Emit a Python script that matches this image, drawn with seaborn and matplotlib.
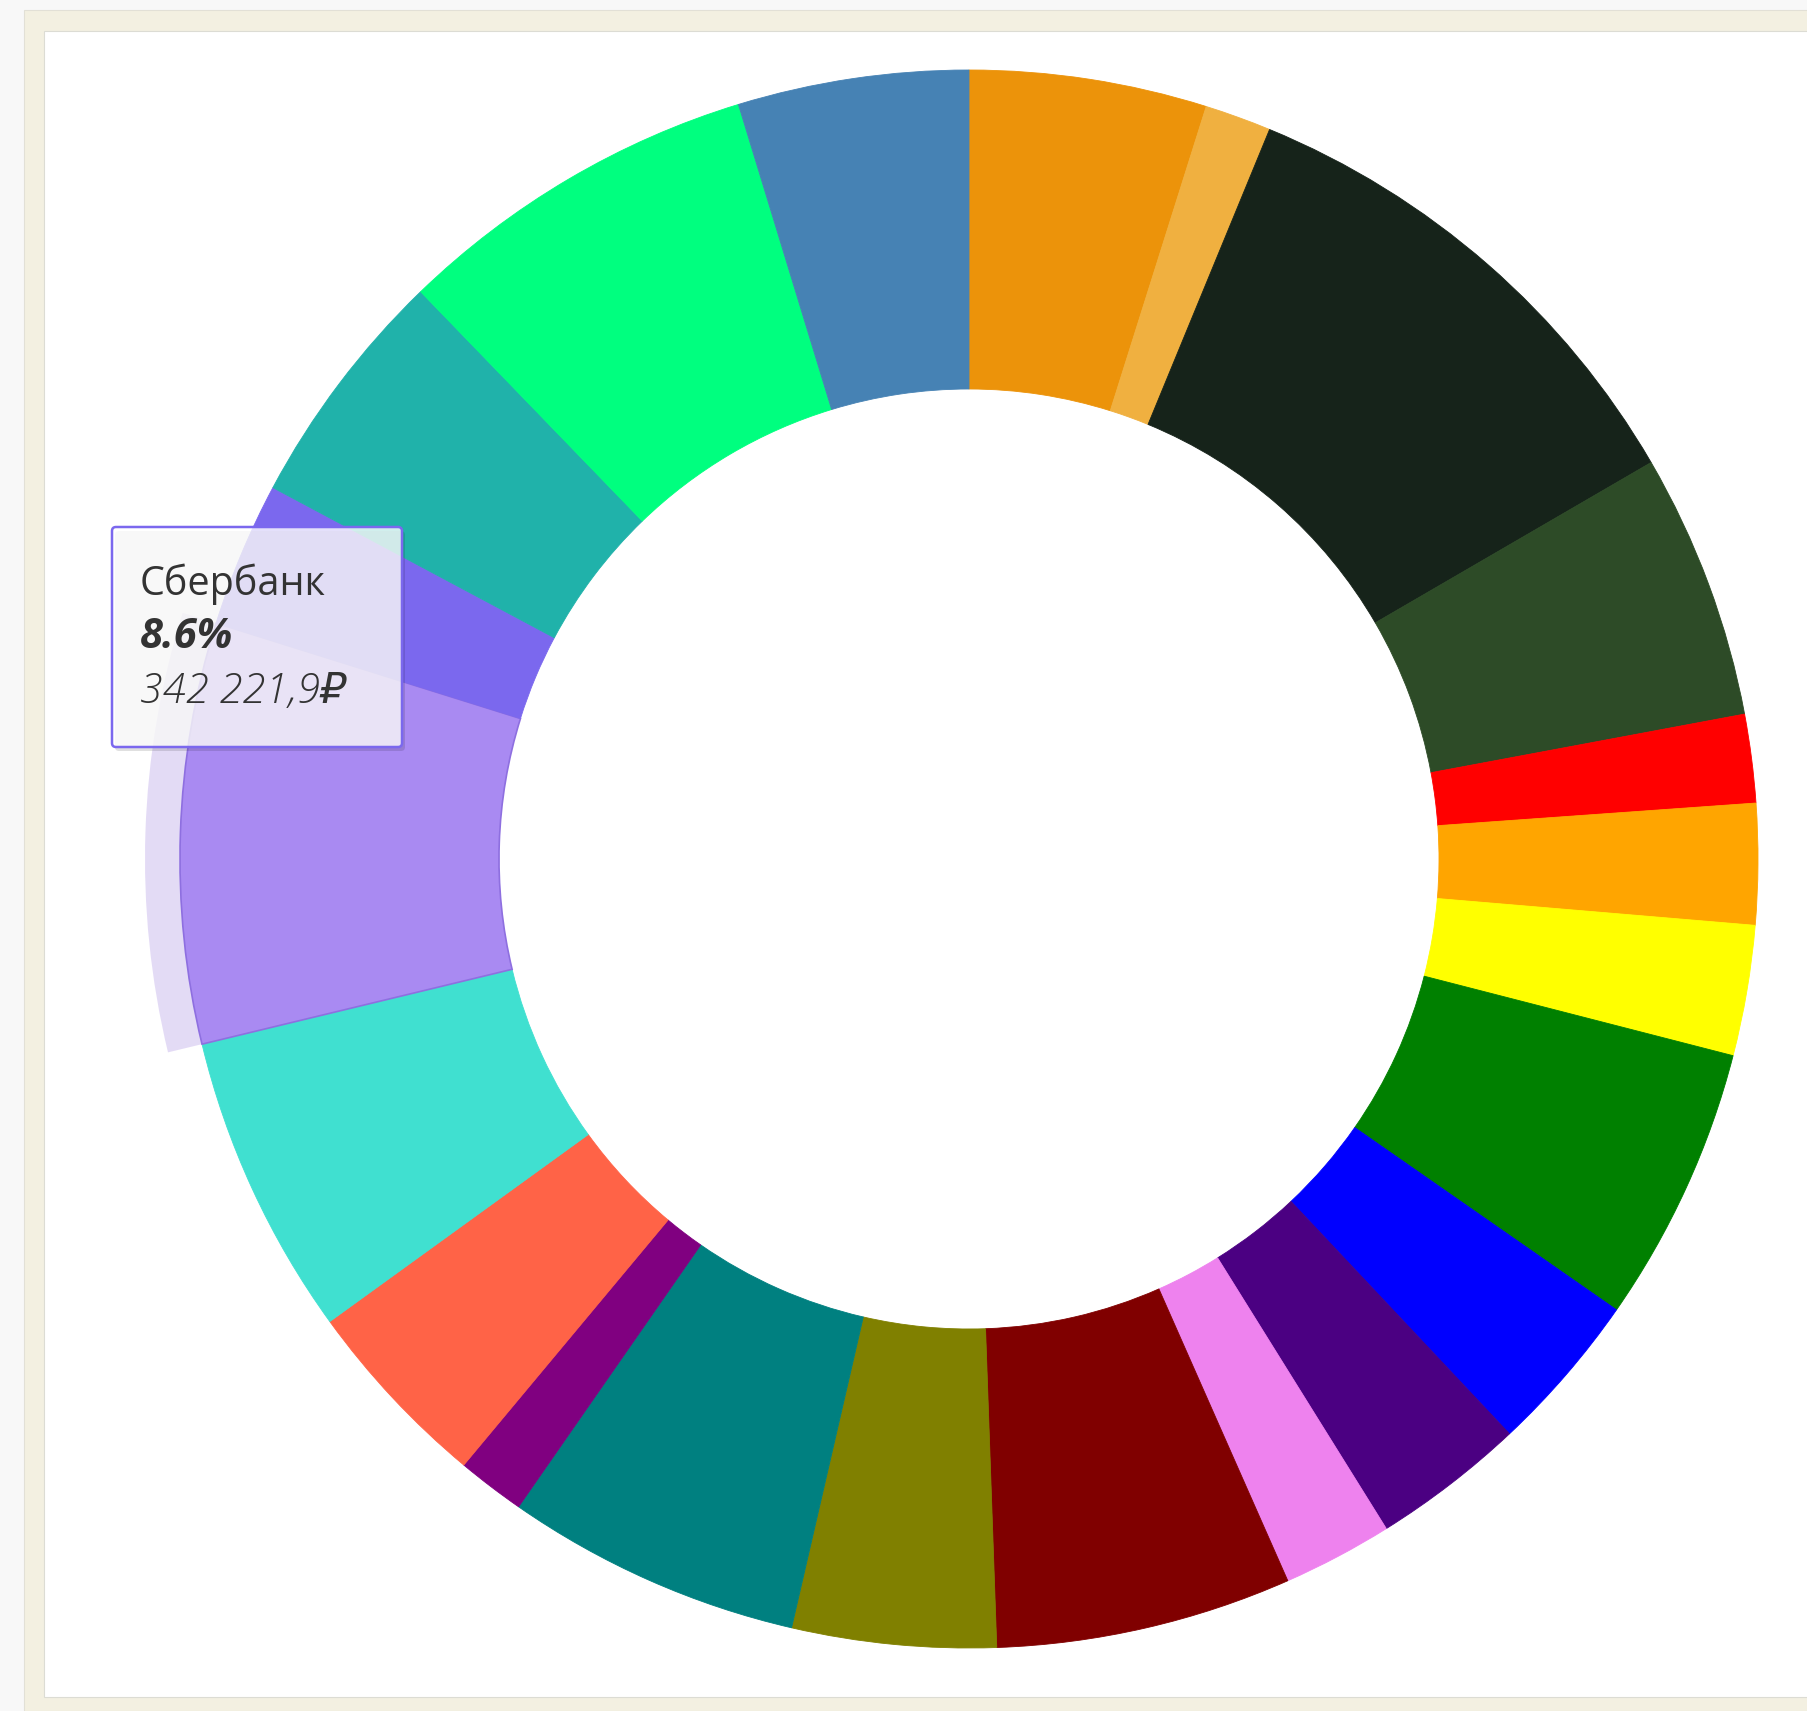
import numpy as np
import matplotlib
matplotlib.use("Agg")
import matplotlib.pyplot as plt
import seaborn as sns
from matplotlib.patches import Wedge, Rectangle, FancyBboxPatch

# ---- data (shares in %, clockwise from 12 o'clock) ----
shares = [4.86, 1.36, 10.40, 5.44, 1.81, 2.47, 2.67, 5.67, 3.31, 3.14, 2.25,
          6.06, 4.17, 6.06, 1.39, 3.97, 6.20, 8.60, 2.97, 4.97, 7.51, 4.72]
colors = ["#EC930A", "#F0B040", "#16231A", "#2D4B27", "#FF0000", "#FFA500",
          "#FFFF00", "#008000", "#0000FF", "#4B0082", "#EE82EE", "#800000",
          "#808000", "#008080", "#800080", "#FF6347", "#40E0D0", "#A98AF2",
          "#7B68EE", "#20B2AA", "#00FF7F", "#4682B4"]
hover_index = 17
tooltip_name = "Сбербанк"
tooltip_share = "8.6%"
tooltip_value = "342 221,9₽"

sns.set_theme(style="white")
plt.rcParams["font.family"] = ["Open Sans", "DejaVu Sans"]

W, H = 1808, 1711
fig = plt.figure(figsize=(W / 100, H / 100), dpi=100, facecolor="#F8F8F8")
ax = fig.add_axes([0, 0, 1, 1])
ax.set_facecolor("none")

# frame: beige border and white panel
ax.add_patch(Rectangle((24, 0), W - 24, H - 10, facecolor="#F3F0E1",
                       edgecolor="#E2E0D6", lw=0.8, zorder=0))
ax.add_patch(Rectangle((44, 14), W - 44, H - 31 - 14, facecolor="white",
                       edgecolor="#DCDCD4", lw=0.8, zorder=0.5))

cx, cy = 969, H - 859
r_out, r_in = 789, 470

wedges, _ = ax.pie(shares, colors=colors, startangle=90, counterclock=False,
                   radius=r_out, center=(cx, cy), frame=True,
                   wedgeprops=dict(width=r_out - r_in, linewidth=0.6))
for w, c in zip(wedges, colors):
    w.set_edgecolor(c)
    w.set_zorder(2)
wedges[hover_index].set_edgecolor("#8E6FE0")
wedges[hover_index].set_linewidth(1.2)
ax.set_xlim(0, W)
ax.set_ylim(0, H)
ax.set_aspect("auto")
ax.axis("off")

# hover halo around the highlighted slice
hw = wedges[hover_index]
ax.add_patch(Wedge((cx, cy), r_out + 35, hw.theta1, hw.theta2, width=35,
                   facecolor="#9370DB", alpha=0.25, lw=0, zorder=1.5))

# tooltip
bx0, bx1 = 112, 402
by_top, by_bot = 527, 747
ax.add_patch(FancyBboxPatch((bx0 + 3, H - by_bot - 4), bx1 - bx0, by_bot - by_top,
                            boxstyle="round,pad=0,rounding_size=4",
                            facecolor="black", alpha=0.12, lw=0, zorder=5))
ax.add_patch(FancyBboxPatch((bx0, H - by_bot), bx1 - bx0, by_bot - by_top,
                            boxstyle="round,pad=0,rounding_size=4",
                            facecolor=(1, 1, 1, 0.8), edgecolor="#7B68EE",
                            lw=1.8, zorder=6))
ax.text(140, H - 595, tooltip_name, fontsize=28.5, color="#333333",
        va="baseline", ha="left", zorder=7)
ax.text(140, H - 648, tooltip_share, fontsize=30, color="#333333",
        fontweight="bold", fontstyle="italic", va="baseline", ha="left", zorder=7)
ax.text(140, H - 703, tooltip_value, fontsize=30, color="#333333",
        fontweight="light", fontstyle="italic", va="baseline", ha="left", zorder=7)

fig.savefig("out.png", dpi=100, facecolor=fig.get_facecolor())
